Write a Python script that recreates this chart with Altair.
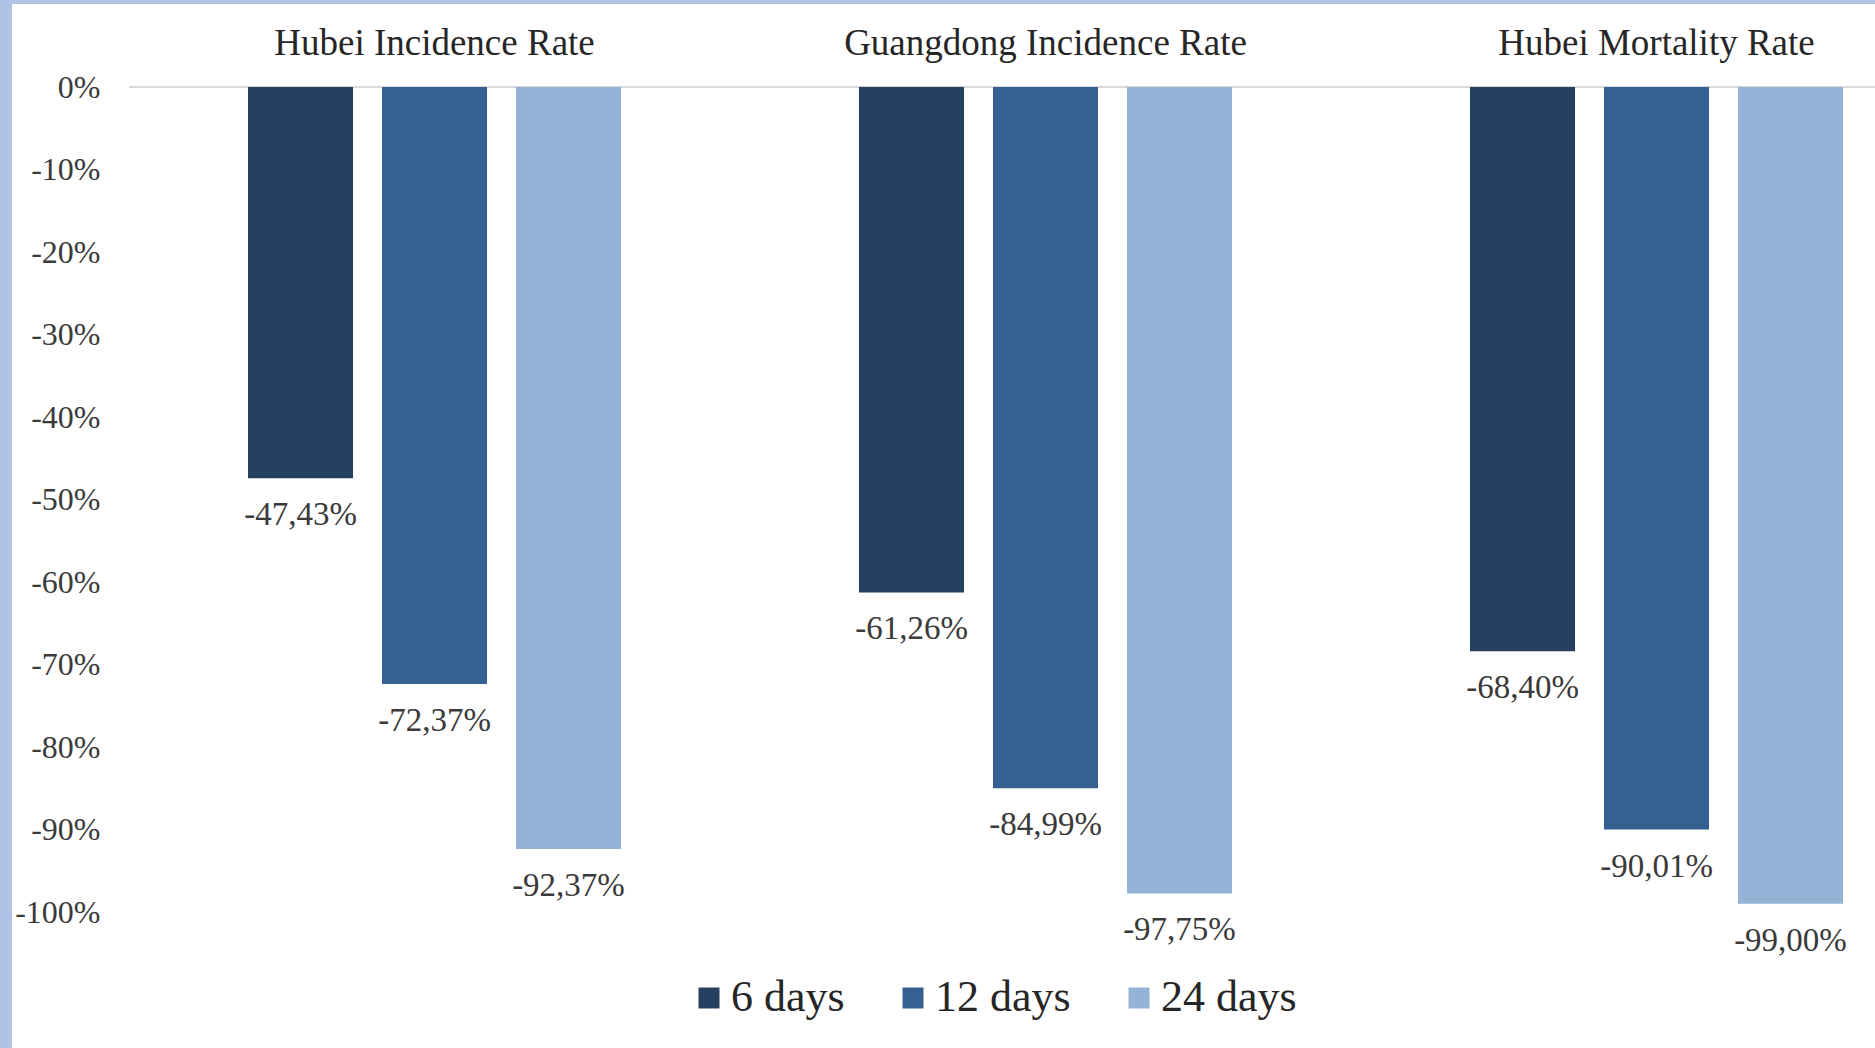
import altair as alt
import pandas as pd

# Chart values
groups = ["Hubei Incidence Rate", "Guangdong Incidence Rate", "Hubei Mortality Rate"]
series = ["6 days", "12 days", "24 days"]
days_6 = [-47.43, -61.26, -68.40]
days_12 = [-72.37, -84.99, -90.01]
days_24 = [-92.37, -97.75, -99.00]
y_ticks = [0, -10, -20, -30, -40, -50, -60, -70, -80, -90, -100]

colors = ["#254061", "#376092", "#95b3d7"]
serif = "Liberation Serif"
text_color = "#3a3a3a"

W, H = 1746, 825
PAD_L, PAD_T = 129, 87
GROUP_STEP = 611

rows = []
for name, vals in zip(series, [days_6, days_12, days_24]):
    for g, v in zip(groups, vals):
        rows.append({"group": g, "series": name, "value": v,
                     "label": f"{v:.2f}".replace(".", ",") + "%"})
df = pd.DataFrame(rows)
titles = pd.DataFrame({"group": groups})

x_enc = alt.X("group:N", sort=groups, axis=None,
              scale=alt.Scale(domain=groups, range=[0, GROUP_STEP * len(groups)],
                              paddingInner=0, paddingOuter=0))
xoff_enc = alt.XOffset("series:N", sort=series,
                       scale=alt.Scale(domain=series, paddingInner=0.216, paddingOuter=0.888))
y_scale = alt.Scale(domain=[-100, 0], nice=False)

# white page with the thin blue frame on the left and top
page = alt.Chart(alt.Data(values=[{}])).mark_rect(color="white").encode(
    x=alt.value(12 - PAD_L), x2=alt.value(W + 10),
    y=alt.value(4 - PAD_T), y2=alt.value(1048 - PAD_T + 10),
)

zero_line = alt.Chart(alt.Data(values=[{}])).mark_rule(color="#d9d9d9", strokeWidth=2).encode(
    y=alt.datum(0, scale=y_scale), x=alt.value(0), x2=alt.value(W + 10)
)

base = alt.Chart(df)

bars = base.mark_bar().encode(
    x=x_enc,
    xOffset=xoff_enc,
    y=alt.Y("value:Q", scale=y_scale,
            axis=alt.Axis(values=y_ticks, labelExpr="datum.value + '%'", domain=False,
                          ticks=False, grid=False, labelPadding=29, labelFontSize=32,
                          labelFont=serif, labelColor=text_color, title=None, zindex=1)),
    y2=alt.datum(0),
    color=alt.Color("series:N", sort=series,
                    scale=alt.Scale(domain=series, range=colors),
                    legend=alt.Legend(orient="none", direction="horizontal",
                                      legendX=558, legendY=889, title=None,
                                      symbolType="square", symbolSize=441,
                                      symbolStrokeWidth=0, labelFont=serif,
                                      labelFontSize=44, labelColor="#262626",
                                      labelOffset=0, columnPadding=46, zindex=1)),
)

labels = base.mark_text(font=serif, fontSize=33, color=text_color,
                        baseline="alphabetic", dy=47).encode(
    x=x_enc,
    xOffset=xoff_enc,
    y=alt.Y("value:Q", scale=y_scale),
    text="label:N",
)

group_titles = alt.Chart(titles).mark_text(font=serif, fontSize=37, color="#262626",
                                           baseline="alphabetic").encode(
    x=x_enc,
    y=alt.value(-32),
    text="group:N",
)

chart = alt.layer(page, zero_line, bars, labels, group_titles).properties(
    width=W, height=H,
    autosize=alt.AutoSizeParams(type="none"),
    padding={"left": PAD_L, "top": PAD_T, "right": 0, "bottom": 1048 - PAD_T - H},
    background="#aec3e6",
).configure_view(strokeWidth=0)

chart.save("out.html", embed_options={"renderer": "svg", "actions": False})
